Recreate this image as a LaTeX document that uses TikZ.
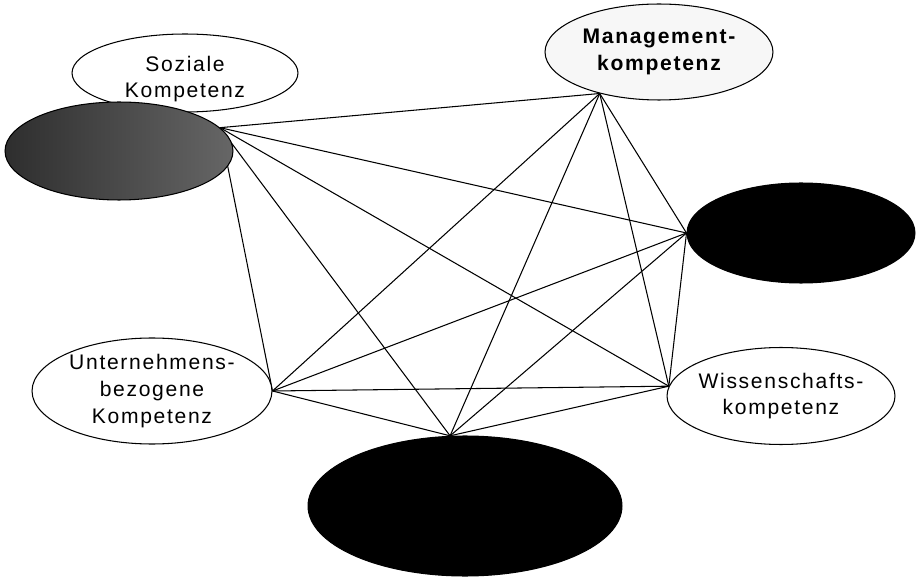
\documentclass[tikz,border=0pt]{standalone}
\usepackage{fontspec}
\usepackage{tikz}
\usetikzlibrary{shapes.geometric, backgrounds}
\newfontfamily\labfont[LetterSpace=8]{Liberation Sans}

\begin{document}
\begin{tikzpicture}[x=0.02cm, y=-0.02cm,
    comp/.style={draw, ellipse, line width=0.6pt, inner sep=0pt, fill=white},
    dark/.style={comp, fill=black},
    lab/.style={font={\labfont\fontsize{12}{15}\selectfont}, align=center},
    link/.style={line width=0.6pt}]
  \useasboundingbox (0,0) rectangle (916,577);

  % competence ellipses
  \node[comp, minimum width=4.52cm, minimum height=1.56cm,
        label={[lab, yshift=-0.12cm]center:Soziale\\Kompetenz}] (sozial) at (185,73) {};
  \node[comp, minimum width=4.56cm, minimum height=1.96cm,
        left color=black!82, middle color=black!90, right color=black!60] (dark1) at (119,151) {};
  \node[comp, fill=black!3, minimum width=4.56cm, minimum height=1.92cm,
        label={[lab, font={\labfont\bfseries\fontsize{12}{15}\selectfont}]center:Management-\\kompetenz}] (mgmt) at (659,52) {};
  \node[dark, minimum width=4.56cm, minimum height=2.0cm] (dark2) at (801,233) {};
  \node[comp, minimum width=4.56cm, minimum height=1.94cm,
        label={[lab]center:Wissenschafts-\\kompetenz}] (wiss) at (781,396) {};
  \node[dark, minimum width=6.28cm, minimum height=2.8cm] (dark3) at (465,506) {};
  \node[comp, minimum width=4.8cm, minimum height=2.12cm,
        label={[lab, font={\labfont\fontsize{12}{15.5}\selectfont}]center:Unternehmens-\\bezogene\\Kompetenz}] (unt) at (152,391) {};

  % every competence linked with every other
  \begin{scope}[on background layer]
    \foreach \a/\b in {dark1.13/mgmt.215, dark1.13/dark2.west, dark1.13/wiss.175,
        dark1.13/dark3.102, dark1.13/unt.east,
        mgmt.215/dark2.west, mgmt.215/wiss.175, mgmt.215/dark3.102, mgmt.215/unt.east,
        dark2.west/wiss.175, dark2.west/dark3.102, dark2.west/unt.east,
        wiss.175/dark3.102, wiss.175/unt.east,
        dark3.102/unt.east}
      \draw[link] (\a) -- (\b);
  \end{scope}
\end{tikzpicture}
\end{document}
